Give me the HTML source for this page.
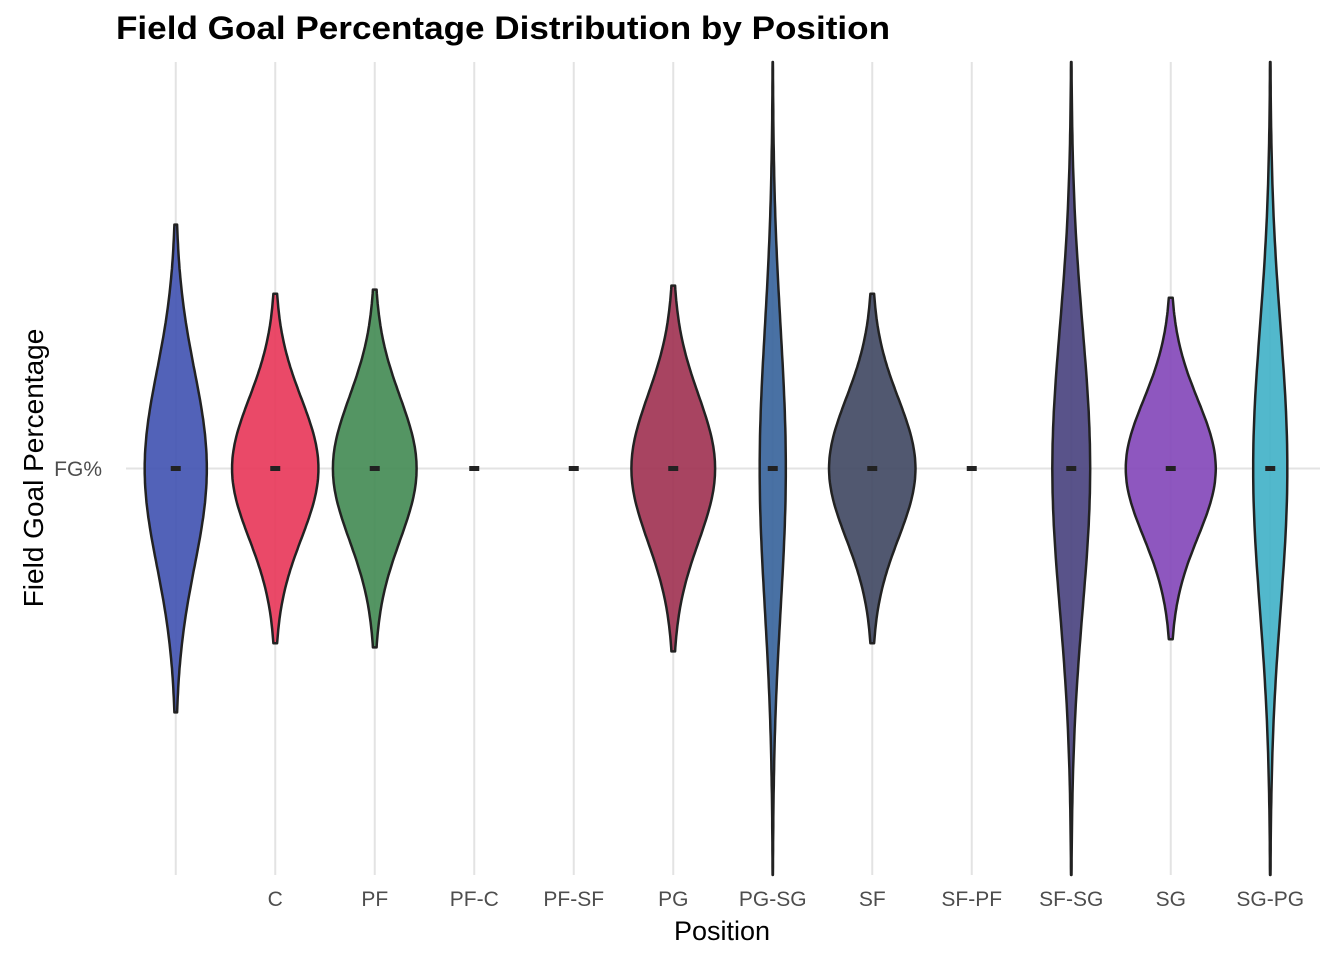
<!DOCTYPE html>
<html><head><meta charset="utf-8"><style>
html,body{margin:0;padding:0;background:#fff}
svg{display:block;font-family:"Liberation Sans",Arial,sans-serif}
</style></head><body>
<svg id="chart" width="1344" height="960">
<text x="116" y="39" font-size="32" font-weight="bold" fill="#000" textLength="774" lengthAdjust="spacingAndGlyphs">Field Goal Percentage Distribution by Position</text>
<g id="grid"></g>
<g id="violins"></g>
<g id="xlabels"></g>
<text x="102" y="476" font-size="21" fill="#4d4d4d" text-anchor="end">FG%</text>
<text x="722" y="940" font-size="27" fill="#000" text-anchor="middle">Position</text>
<text transform="translate(43,468) rotate(-90)" font-size="28" fill="#000" text-anchor="middle">Field Goal Percentage</text>
</svg>
<script>
const categories = ["", "C", "PF", "PF-C", "PF-SF", "PG", "PG-SG", "SF", "SF-PF", "SF-SG", "SG", "SG-PG"];
const medians = [0,0,0,0,0,0,0,0,0,0,0,0];
const upperExtent = [0.60,0.43,0.44,0,0,0.45,1.0,0.43,0,1.0,0.42,1.0];
const lowerExtent = [0.60,0.43,0.44,0,0,0.45,1.0,0.43,0,1.0,0.42,1.0];
const peakDensity = [0.69,0.96,0.93,0,0,0.93,0.29,0.96,0,0.42,1.0,0.38];
const colors = ["#3f51b0","#e83558","#418a52","#888","#888","#9e3050","#35629a","#3e4660","#888","#47407d","#8245b8","#3fb0c6"];

const svg = document.getElementById('chart');
const NS = 'http://www.w3.org/2000/svg';
const plotL = 126, plotR = 1320, plotT = 62, plotB = 875;
const step = (plotR - plotL) / categories.length;
const xScale = i => plotL + step * (i + 0.5);
const yScale = v => (plotT + plotB) / 2 - v * (plotB - plotT) / 2;
const wScale = d => d * 45;

const grid = document.getElementById('grid');
function line(x1,y1,x2,y2,name){
  const l = document.createElementNS(NS,'line');
  l.setAttribute('x1',x1);l.setAttribute('y1',y1);l.setAttribute('x2',x2);l.setAttribute('y2',y2);
  l.setAttribute('stroke','#e3e3e3');l.setAttribute('stroke-width','2');
  
  
  grid.appendChild(l);
}
categories.forEach((c,i)=>line(xScale(i),plotT,xScale(i),plotB,'x-gridline'));
line(plotL,yScale(0),plotR,yScale(0),'y-gridline');

const vg = document.getElementById('violins');
const xl = document.getElementById('xlabels');
categories.forEach((c,i)=>{
  const cx = xScale(i), m = medians[i];
  if (peakDensity[i] > 0) {
    const pts = [];
    const N = 100;
    const up = upperExtent[i], lo = lowerExtent[i];
    const long = up > 0.8;
    const su = up / (long ? 2.9 : 2.5), sl = lo / (long ? 2.9 : 2.5);
    for (let k=0;k<=N;k++){ const v = m + up - (up+lo)*k/N; const d = v-m; const s = d>0?su:sl;
      const w = wScale(peakDensity[i]) * Math.exp(-0.5*(d/s)*(d/s));
      pts.push([cx + w, yScale(v)]); }
    const left = pts.map(p=>[2*cx-p[0],p[1]]).reverse();
    const all = pts.concat(left);
    const p = document.createElementNS(NS,'path');
    p.setAttribute('d','M'+all.map(q=>q[0].toFixed(1)+','+q[1].toFixed(1)).join('L')+'Z');
    p.setAttribute('fill',colors[i]);p.setAttribute('fill-opacity','0.9');
    p.setAttribute('stroke','#222');p.setAttribute('stroke-width','2.5');p.setAttribute('stroke-linejoin','round');
    
    
    vg.appendChild(p);
  }
  const r = document.createElementNS(NS,'rect');
  r.setAttribute('x',cx-5);r.setAttribute('y',yScale(m)-2.5);r.setAttribute('width',10);r.setAttribute('height',5);
  r.setAttribute('fill','#222');
  
  
  vg.appendChild(r);
  const t = document.createElementNS(NS,'text');
  t.setAttribute('x',cx);t.setAttribute('y',906);t.setAttribute('font-size','21');t.setAttribute('fill','#4d4d4d');
  t.setAttribute('text-anchor','middle');t.textContent = c;
  
  
  xl.appendChild(t);
});
</script>
</body></html>
